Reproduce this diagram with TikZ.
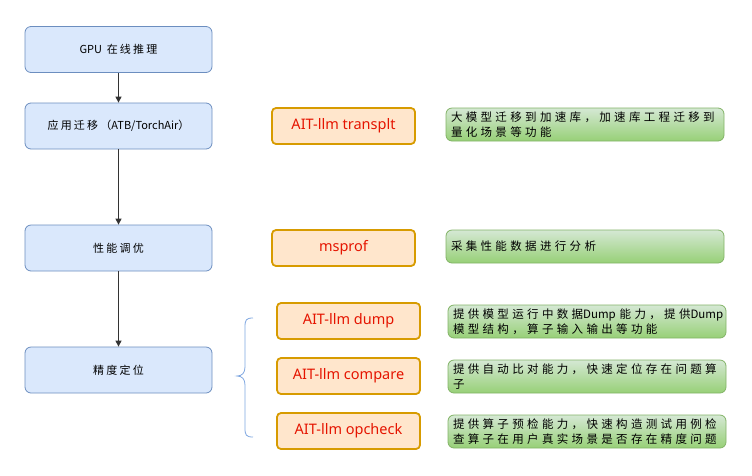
\documentclass[tikz,border=0pt]{standalone}
\usepackage{fontspec}
\setmainfont{Noto Sans CJK SC}
\newfontfamily\cjkblue[LetterSpace=20]{Noto Sans CJK SC}
\newfontfamily\cjkgreen[LetterSpace=29]{Noto Sans CJK SC}
\newfontfamily\cjkplain{Noto Sans CJK SC}
\newfontfamily\latinorange{Noto Sans}
\usetikzlibrary{arrows.meta}
\definecolor{bluefill}{HTML}{DAE8FC}
\definecolor{blueline}{HTML}{6C8EBF}
\definecolor{orfill}{HTML}{FFE6CC}
\definecolor{orline}{HTML}{D79B00}
\definecolor{ortext}{HTML}{E51400}
\definecolor{grtop}{HTML}{D5E8D4}
\definecolor{grbot}{HTML}{97D077}
\definecolor{grline}{HTML}{82B366}
\definecolor{bracecol}{HTML}{7EA6E0}
\tikzset{
  stagebox/.style={draw=blueline, fill=bluefill, rounded corners=6pt, line width=0.8pt,
    minimum width=187pt, minimum height=46pt, inner sep=0pt,
    font=\cjkblue\fontsize{11}{13}\selectfont},
  toolbox/.style={draw=orline, fill=orfill, rounded corners=4pt, line width=1.8pt,
    minimum width=143pt, minimum height=36pt, inner sep=0pt, text=ortext,
    font=\latinorange\fontsize{14.5}{16}\selectfont},
  descbox/.style={draw=grline, top color=grtop, bottom color=grbot, rounded corners=6pt,
    line width=0.8pt, minimum width=278pt, minimum height=33pt, inner sep=0pt,
    text width=268pt, align=left, font=\cjkgreen\fontsize{11.5}{15}\selectfont},
  flowarrow/.style={draw=black!80, line width=1.2pt, -{Triangle[length=6pt,width=6pt]}}
}
\begin{document}
\begin{tikzpicture}[x=1pt,y=-1pt]
\useasboundingbox (0,0) rectangle (752,475);
\node[stagebox] (gpu) at (118.5,49.5) {{\cjkplain GPU} 在线推理};
\node[stagebox] (app) at (118.5,126) {应用迁移（{\cjkplain ATB/TorchAir}）};
\node[stagebox] (perf) at (118.5,248) {性能调优};
\node[stagebox] (prec) at (118.5,370) {精度定位};
\draw[flowarrow] (gpu) -- (app);
\draw[flowarrow] (app) -- (perf);
\draw[flowarrow] (perf) -- (prec);

\node[toolbox] (trans) at (343.5,126) {AIT-llm transplt};
\node[toolbox] (msprof) at (343.5,248) {msprof};
\node[toolbox] (dump) at (348.5,321) {AIT-llm dump};
\node[toolbox] (cmp) at (348.5,376) {AIT-llm compare};
\node[toolbox] (opc) at (348.5,431) {AIT-llm opcheck};

\node[descbox] (dtrans) at (585,124.5) {大模型迁移到加速库，加速库工程迁移到\\量化场景等功能};
\node[descbox] (dmsprof) at (585,246.5) {采集性能数据进行分析};
\node[descbox] (ddump) at (587,321.5) {提供模型运行中数据{\cjkplain Dump}~能力，提供{\cjkplain Dump}\\模型结构，算子输入输出等功能};
\node[descbox] (dcmp) at (587,376.5) {提供自动比对能力，快速定位存在问题算\\子};
\node[descbox] (dopc) at (587,431.5) {提供算子预检能力，快速构造测试用例检\\查算子在用户真实场景是否存在精度问题};

\coordinate (btop) at (253,318);
\coordinate (bbot) at (253,437);
\coordinate (btip) at (237,376);
\draw[bracecol, line width=0.8pt] (btop) .. controls (246,318) and (245,320) .. (245,327) -- (245,367)
  .. controls (245,373) and (242,376) .. (btip)
  .. controls (242,376) and (245,379) .. (245,385) -- (245,428)
  .. controls (245,435) and (246,437) .. (bbot);
\end{tikzpicture}
\end{document}
